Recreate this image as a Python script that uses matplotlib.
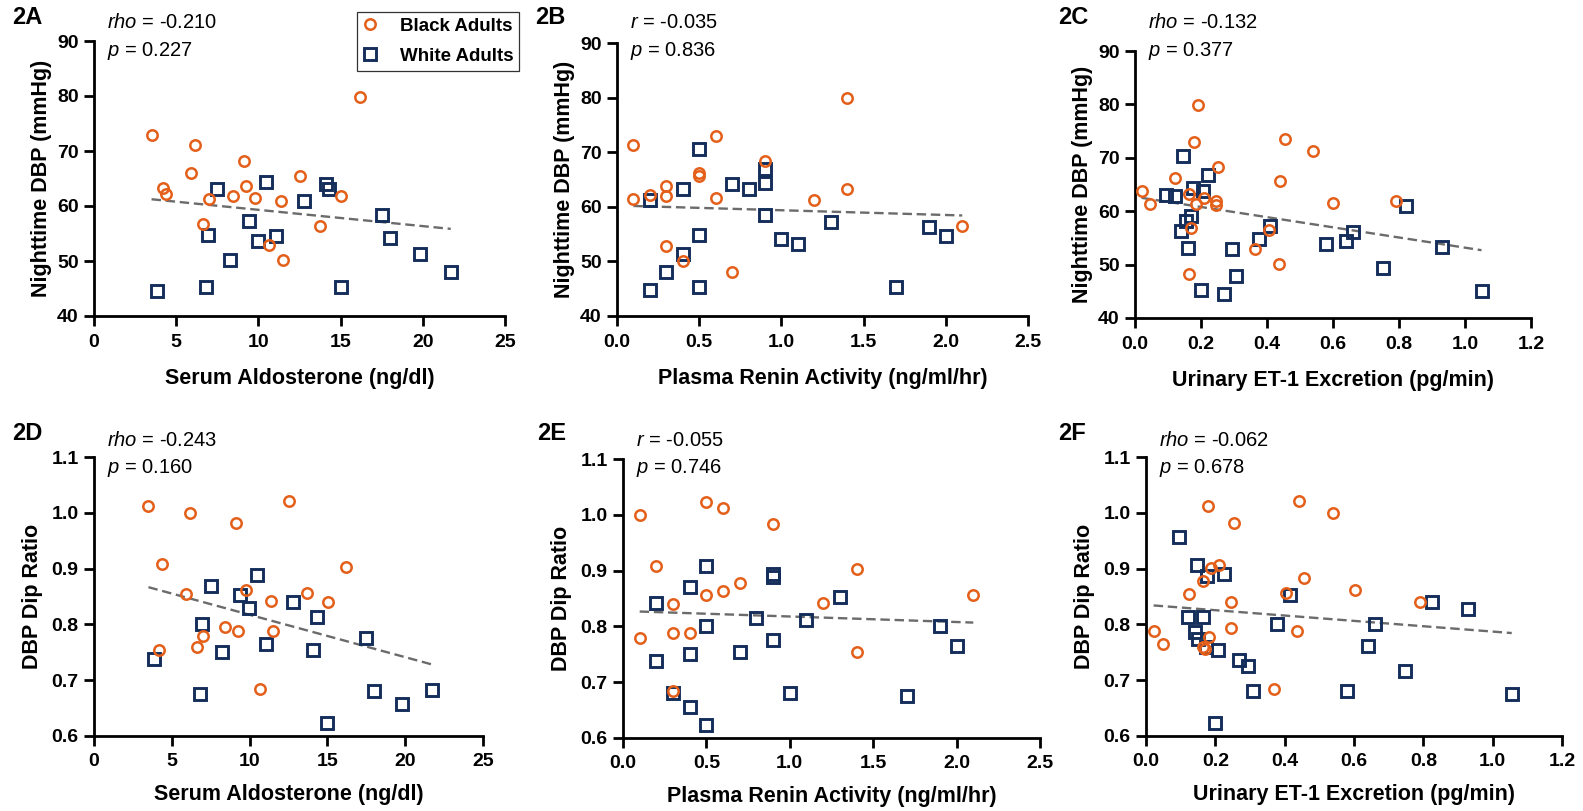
import matplotlib
matplotlib.use("Agg")
import matplotlib.pyplot as plt
from matplotlib.lines import Line2D
from matplotlib.ticker import FormatStrFormatter
import numpy as np

plt.rcParams['font.family'] = ['Liberation Sans', 'DejaVu Sans']
plt.rcParams['mathtext.fontset'] = 'custom'
plt.rcParams['mathtext.rm'] = 'Liberation Sans'
plt.rcParams['mathtext.it'] = 'Liberation Sans:italic'

ORANGE = '#e35f1a'
NAVY = '#142e5a'

# 2A  serum aldosterone vs nighttime DBP
a_bx = [3.5, 6.15, 9.15, 5.9, 12.5, 4.2, 4.4, 9.25, 8.45, 9.8, 7.0, 11.35, 15.05, 16.2, 6.65, 13.75, 10.65, 11.5]
a_by = [72.9, 71.1, 68.2, 66.0, 65.5, 63.3, 62.2, 63.7, 61.8, 61.5, 61.2, 61.0, 61.9, 79.8, 56.7, 56.3, 52.9, 50.1]
a_wx = [7.5, 10.45, 14.1, 14.3, 12.8, 9.45, 6.95, 9.95, 11.05, 8.3, 17.5, 18.0, 19.8, 21.7, 3.85, 6.8, 15.0]
a_wy = [63.1, 64.3, 64.0, 63.1, 61.0, 57.2, 54.8, 53.6, 54.6, 50.1, 58.4, 54.1, 51.3, 48.0, 44.6, 45.3, 45.2]

# 2B  plasma renin activity vs nighttime DBP
b_bx = [0.1, 0.6, 1.4, 0.9, 0.5, 0.5, 0.3, 0.3, 0.2, 0.1, 0.6, 1.2, 1.4, 2.1, 0.3, 0.4, 0.7]
b_by = [71.3, 73.0, 79.9, 68.3, 66.1, 65.6, 63.8, 62.0, 62.2, 61.4, 61.6, 61.2, 63.3, 56.4, 52.9, 50.0, 48.1]
b_wx = [0.5, 0.9, 0.9, 0.7, 0.8, 0.4, 0.2, 0.9, 1.3, 1.0, 1.1, 0.5, 0.4, 0.3, 0.2, 0.5, 1.9, 2.0, 1.7]
b_wy = [70.6, 66.9, 64.4, 64.1, 63.2, 63.2, 61.2, 58.5, 57.3, 54.1, 53.2, 54.9, 51.4, 48.1, 44.7, 45.3, 56.3, 54.6, 45.3]

# 2C  urinary ET-1 vs nighttime DBP
c_bx = [0.19, 0.18, 0.455, 0.54, 0.25, 0.12, 0.44, 0.02, 0.045, 0.165, 0.21, 0.185, 0.245, 0.245,
        0.60, 0.79, 0.17, 0.405, 0.365, 0.435, 0.165]
c_by = [79.9, 73.0, 73.6, 71.3, 68.3, 66.2, 65.7, 63.8, 61.3, 63.2, 62.4, 61.4, 62.0, 61.1,
        61.6, 62.0, 56.8, 56.4, 53.0, 50.2, 48.2]
c_wx = [0.145, 0.22, 0.175, 0.205, 0.095, 0.12, 0.17, 0.155, 0.14, 0.16, 0.295, 0.305, 0.2, 0.27,
        0.375, 0.41, 0.58, 0.64, 0.66, 0.82, 0.93, 0.75, 1.05]
c_wy = [70.4, 66.8, 64.4, 63.8, 63.1, 62.9, 59.1, 58.1, 56.2, 53.1, 52.9, 47.9, 45.2, 44.5,
        54.8, 57.2, 53.9, 54.4, 56.1, 60.9, 53.3, 49.4, 45.1]

# 2D  serum aldosterone vs DBP dip ratio
d_bx = [3.5, 6.2, 9.15, 12.55, 4.4, 16.2, 5.9, 9.8, 13.7, 11.35, 15.05, 8.45, 9.25, 11.5, 7.0, 6.65, 4.2, 10.7]
d_by = [1.012, 1.000, 0.982, 1.022, 0.908, 0.903, 0.855, 0.862, 0.856, 0.842, 0.841, 0.795, 0.789, 0.789,
        0.779, 0.760, 0.755, 0.684]
d_wx = [10.45, 7.5, 9.4, 9.95, 12.8, 14.3, 6.95, 11.05, 8.25, 14.05, 17.5, 3.85, 6.8, 18.0, 19.8, 21.7, 15.0]
d_wy = [0.888, 0.869, 0.853, 0.829, 0.841, 0.814, 0.801, 0.764, 0.751, 0.755, 0.776, 0.738, 0.675, 0.680,
        0.657, 0.682, 0.624]

# 2E  plasma renin activity vs DBP dip ratio
e_bx = [0.1, 0.5, 0.6, 0.9, 0.2, 1.4, 0.7, 0.6, 0.5, 2.1, 0.3, 1.2, 0.1, 0.3, 0.4, 1.4, 0.3]
e_by = [1.000, 1.023, 1.013, 0.983, 0.908, 0.903, 0.878, 0.863, 0.856, 0.856, 0.841, 0.842, 0.779, 0.789,
        0.789, 0.755, 0.684]
e_wx = [0.5, 0.9, 0.9, 0.4, 0.2, 1.3, 0.8, 1.1, 0.5, 1.9, 0.9, 2.0, 0.4, 0.7, 0.2, 0.3, 1.0, 1.7, 0.4, 0.5]
e_wy = [0.908, 0.894, 0.889, 0.870, 0.842, 0.853, 0.815, 0.811, 0.801, 0.801, 0.776, 0.764, 0.751, 0.755,
        0.738, 0.680, 0.680, 0.675, 0.656, 0.623]

# 2F  urinary ET-1 vs DBP dip ratio
f_bx = [0.18, 0.255, 0.44, 0.54, 0.187, 0.212, 0.165, 0.457, 0.124, 0.403, 0.604, 0.245, 0.79, 0.022,
        0.05, 0.245, 0.435, 0.183, 0.17, 0.165, 0.369]
f_by = [1.012, 0.982, 1.022, 1.000, 0.901, 0.906, 0.878, 0.884, 0.854, 0.856, 0.862, 0.841, 0.841, 0.788,
        0.764, 0.794, 0.789, 0.778, 0.756, 0.760, 0.685]
f_wx = [0.095, 0.146, 0.225, 0.177, 0.415, 0.121, 0.165, 0.378, 0.662, 0.826, 0.93, 0.141, 0.151, 0.173,
        0.207, 0.641, 0.268, 0.295, 0.747, 0.31, 0.579, 1.055, 0.20]
f_wy = [0.957, 0.907, 0.891, 0.886, 0.853, 0.814, 0.813, 0.800, 0.800, 0.841, 0.828, 0.786, 0.774, 0.759,
        0.755, 0.762, 0.737, 0.726, 0.716, 0.680, 0.680, 0.675, 0.623]

stat_names = ['rho', 'r', 'rho', 'rho', 'r', 'rho']
stat_vals = ['-0.210', '-0.035', '-0.132', '-0.243', '-0.055', '-0.062']
p_vals = ['0.227', '0.836', '0.377', '0.160', '0.746', '0.678']
letters = ['2A', '2B', '2C', '2D', '2E', '2F']
xlabels = ['Serum Aldosterone (ng/dl)', 'Plasma Renin Activity (ng/ml/hr)', 'Urinary ET-1 Excretion (pg/min)'] * 2
ylabels = ['Nighttime DBP (mmHg)'] * 3 + ['DBP Dip Ratio'] * 3

W, H = 1583, 811
fig = plt.figure(figsize=(W / 100, H / 100), dpi=100)

# axes boxes in pixels: left spine x, right end x, top y, bottom y
boxes = [(94, 505, 41, 316), (617, 1028, 43, 316), (1135, 1531, 51, 318),
         (94, 483, 457, 736), (623, 1040, 459, 738), (1146, 1562, 457, 736)]
letter_pos = [(12, 17), (535, 17), (1058, 17), (12, 433), (537, 433), (1058, 433)]
text_y = [23, 23, 23, 440, 440, 440]


def panel(i, bx, by, wx, wy, xmax, xstep, xfmt, ylim, ystep, yfmt):
    l, r, t, b = boxes[i]
    ax = fig.add_axes([l / W, 1 - b / H, (r - l) / W, (b - t) / H])

    # least squares line over both groups
    allx = np.array(bx + wx)
    ally = np.array(by + wy)
    k, c = np.polyfit(allx, ally, 1)
    xs = np.array([allx.min(), allx.max()])
    ax.plot(xs, k * xs + c, ls=(0, (4, 2)), color='#6b6b6b', lw=1.7, zorder=2)

    ax.plot(wx, wy, ls='none', marker='s', ms=8.3, mfc='none', mec=NAVY, mew=2.1, zorder=3)
    ax.plot(bx, by, ls='none', marker='o', ms=7.5, mfc='none', mec=ORANGE, mew=1.8, zorder=4)

    ax.set_xlim(0, xmax)
    ax.set_ylim(*ylim)
    ax.set_xticks(np.arange(0, xmax + xstep / 2, xstep))
    ax.set_yticks(np.arange(ylim[0], ylim[1] + ystep / 2, ystep))
    ax.xaxis.set_major_formatter(FormatStrFormatter(xfmt))
    ax.yaxis.set_major_formatter(FormatStrFormatter(yfmt))
    for s in ['top', 'right']:
        ax.spines[s].set_visible(False)
    for s in ['left', 'bottom']:
        ax.spines[s].set_linewidth(2.0)
    ax.tick_params(width=2.0, length=7, labelsize=14, pad=4)
    ax.tick_params(axis='x', pad=6 if i < 3 else 5)
    for lab in ax.get_xticklabels() + ax.get_yticklabels():
        lab.set_fontweight('bold')
    ax.set_xlabel(xlabels[i], fontsize=15.5, fontweight='bold', labelpad=12 if i < 3 else 10)
    ax.set_ylabel(ylabels[i], fontsize=15.5, fontweight='bold', labelpad=4 if i < 3 else 6)

    tx = (l + 13) / W
    ty = text_y[i]
    fig.text(tx, 1 - ty / H, r'$\it{%s}$ = %s' % (stat_names[i], stat_vals[i]), fontsize=14.5, va='center')
    fig.text(tx, 1 - (ty + 28) / H, r'$\it{p}$ = %s' % p_vals[i], fontsize=14.5, va='center')
    lx, ly = letter_pos[i]
    fig.text(lx / W, 1 - ly / H, letters[i], fontsize=17, fontweight='bold', va='center')
    return ax


panel(0, a_bx, a_by, a_wx, a_wy, 25, 5, '%d', (40, 90), 10, '%d')
panel(1, b_bx, b_by, b_wx, b_wy, 2.5, 0.5, '%.1f', (40, 90), 10, '%d')
panel(2, c_bx, c_by, c_wx, c_wy, 1.2, 0.2, '%.1f', (40, 90), 10, '%d')
panel(3, d_bx, d_by, d_wx, d_wy, 25, 5, '%d', (0.6, 1.1), 0.1, '%.1f')
panel(4, e_bx, e_by, e_wx, e_wy, 2.5, 0.5, '%.1f', (0.6, 1.1), 0.1, '%.1f')
panel(5, f_bx, f_by, f_wx, f_wy, 1.2, 0.2, '%.1f', (0.6, 1.1), 0.1, '%.1f')

handles = [Line2D([], [], ls='none', marker='o', ms=7.5, mfc='none', mec=ORANGE, mew=1.8),
           Line2D([], [], ls='none', marker='s', ms=8.3, mfc='none', mec=NAVY, mew=2.1)]
leg = fig.legend(handles, ['Black Adults', 'White Adults'], loc='upper left',
                 bbox_to_anchor=(357 / W, 1 - 12 / H), borderaxespad=0,
                 prop={'weight': 'bold', 'size': 13.5},
                 frameon=True, fancybox=False, handlelength=0.8, handletextpad=1.2,
                 borderpad=0.3, labelspacing=0.7)
leg.get_frame().set_edgecolor('black')
leg.get_frame().set_linewidth(0.9)

fig.savefig('out.png', dpi=100)
